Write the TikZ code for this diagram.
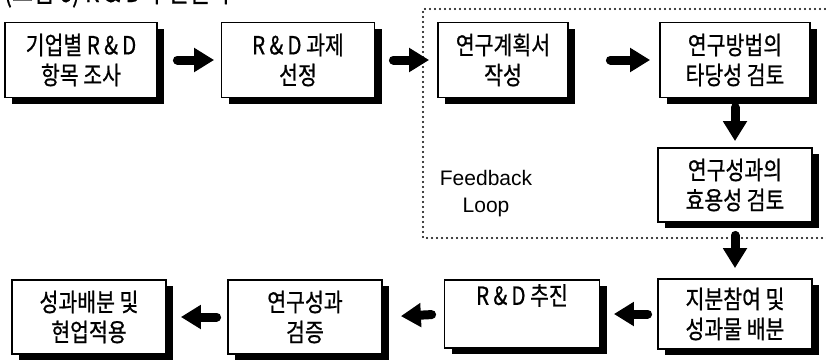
\documentclass[tikz,border=0pt]{standalone}
\usepackage{fontspec}
\setmainfont{Noto Sans CJK KR}[FakeStretch=0.82, FakeBold=0.7]
\newfontfamily\latinfont{Liberation Sans}
\usetikzlibrary{arrows.meta,shadows}

\begin{document}
\begin{tikzpicture}[%
      x=1pt, y=-1pt,
      box/.style={draw=black, line width=1.8pt, fill=white, align=center,
        inner sep=0pt, minimum height=75pt,
        font=\fontsize{25}{30}\selectfont,
        drop shadow={shadow xshift=7pt, shadow yshift=-6pt, fill=black, opacity=1}},
      flow/.style={line width=9pt, line cap=round,
        -{Triangle[length=20pt, width=23pt]}},
      ]
      \clip (0,0) rectangle (826,359);

      % title (cut at the top edge)
      \node [anchor=base west, inner sep=0pt, font=\fontsize{28}{32}\selectfont]
        (title) at (4,2) {(그림 6) R~\&~D 추진절차};

      % feedback loop frame
      \draw [line width=2.2pt, line cap=round, dash pattern=on 0pt off 5pt]
        (840,9) -- (423,9) -- (423,238) -- (840,238);
      \node [align=center, font=\latinfont\fontsize{21}{27}\selectfont] (fb) at (486,194)
        {Feedback\\Loop};

      % top row
      \node [box, minimum width=152pt] (b1) at (81,60) {기업별 R\,\&\,D\\항목 조사};
      \node [box, minimum width=153pt] (b2) at (298,60) {R\,\&\,D 과제\\선정};
      \node [box, minimum width=130pt] (b3) at (503,60) {연구계획서\\작성};
      \node [box, minimum width=150pt] (b4) at (735,60) {연구방법의\\타당성 검토};

      % right column
      \node [box, minimum width=154pt, minimum height=74pt] (b5) at (735,185)
        {연구성과의\\효용성 검토};

      % bottom row
      \node [box, minimum width=154pt, minimum height=70pt] (b6) at (735,314)
        {지분참여 및\\성과물 배분};
      \node [box, minimum width=155pt, minimum height=68pt] (b7) at (522,314)
        {R\,\&\,D 추진\\\strut};
      \node [box, minimum width=154pt, minimum height=74pt] (b8) at (305,317)
        {연구성과\\검증};
      \node [box, minimum width=154pt, minimum height=74pt] (b9) at (89,317)
        {성과배분 및\\현업적용};

      % arrows
      \draw [flow, shorten <=19.5pt, shorten >=6.5pt] (b1.east) -- (b2.west);
      \draw [flow, shorten <=18pt, shorten >=8pt] (b2.east) -- (b3.west);
      \draw [flow, shorten <=41.5pt, shorten >=9pt] (b3.east) -- (b4.west);
      \draw [flow, shorten <=9pt, shorten >=6pt] (b4.south) -- (b5.north);
      \draw [flow, shorten <=12.5pt, shorten >=10pt] (b5.south) -- (b6.north);
      \draw [flow, shorten <=9.5pt, shorten >=13.5pt] (b6.west) -- (b7.east);
      \draw [flow, shorten <=12pt, shorten >=18pt] (b7.west) -- (b8.east);
      \draw [flow, shorten <=10.5pt, shorten >=14pt] (b8.west) -- (b9.east);
\end{tikzpicture}
\end{document}
